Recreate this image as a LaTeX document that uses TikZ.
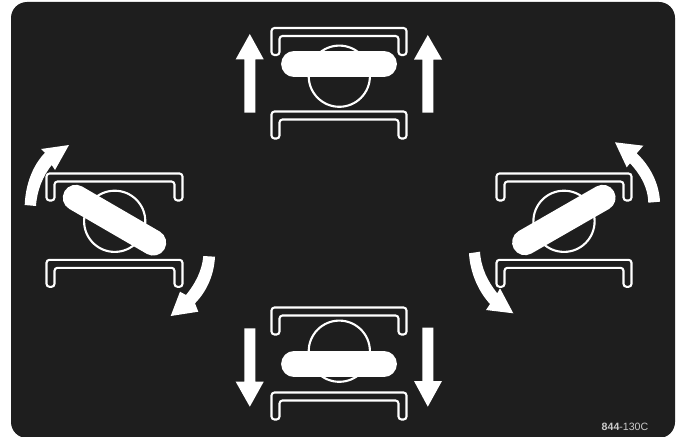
\documentclass[tikz,border=0pt]{standalone}
\usepackage{fontspec}
\setmainfont{Liberation Sans}
\definecolor{panelc}{HTML}{1E1E1E}
\newcommand{\brk}[3]{%
  \draw[brk] (#1,{#3+27}) -- (#1,#3) -- (#2,#3) -- (#2,{#3+27}) -- ({#2-8},{#3+27}) -- ({#2-8},{#3+8}) -- ({#1+8},{#3+8}) -- ({#1+8},{#3+27}) -- cycle;}
\tikzset{
  brk/.style={draw=white,line width=2.1pt,rounded corners=3pt},
  circ/.style={draw=white,line width=2.1pt},
  bar/.style={draw=white,line width=25.8pt,line cap=round},
  arw/.style={fill=white,draw=none},
  x=1pt,y=-1pt}
\begin{document}
\begin{tikzpicture}
\useasboundingbox (0,0) rectangle (679,436);
\fill[white] (0,0) rectangle (679,436);
\fill[panelc,rounded corners=16pt] (11,2) rectangle (675,438);
% top
\brk{271.5}{406.5}{28}
\brk{271.5}{406.5}{111.5}
\draw[circ] (339.3,76.2) circle (30.6);
\draw[bar] (294,64) -- (384,64);
\fill[arw] (244.3,112.5) -- (244.3,59.3) -- (235.7,59.3) -- (249.8,34) -- (263.7,59.3) -- (255.3,59.3) -- (255.3,112.5) -- cycle;
\fill[arw] (422.3,112.7) -- (422.3,59.5) -- (414,59.5) -- (427.8,35) -- (442,59.5) -- (433.3,59.5) -- (433.3,112.7) -- cycle;
% bottom
\brk{271.5}{406.5}{307.5}
\brk{271.5}{406.5}{392.5}
\draw[circ] (339.3,351.2) circle (30.6);
\draw[bar] (294,364) -- (384,364);
\fill[arw] (244.3,328.3) -- (244.3,381.7) -- (235.7,381.7) -- (249.8,406.7) -- (263.7,381.7) -- (255.3,381.7) -- (255.3,328.3) -- cycle;
\fill[arw] (422.3,327.7) -- (422.3,381) -- (414,381) -- (427.8,406.7) -- (442,381) -- (433.3,381) -- (433.3,327.7) -- cycle;
% left
\brk{46.5}{182.5}{173.5}
\brk{46.5}{182.5}{259.8}
\draw[circ] (114.7,221.3) circle (30.6);
\draw[bar] (75.7,197.7) -- (153.3,242.7);
\fill[arw] (24.7,205) .. controls (25.5,184) and (33,165) .. (45,152.7) -- (41,149) -- (69,145) -- (55,170) -- (51.7,165) .. controls (43,176) and (37,190) .. (36,206) -- cycle;
\fill[arw] (215,256.7) .. controls (214,275) and (207,291) .. (195,303.3) -- (198.3,311.7) -- (170.7,316) -- (180,291.7) -- (186,295) .. controls (195,284) and (202,271) .. (203.3,256) -- cycle;
% right
\brk{496.5}{631.5}{173.5}
\brk{496.5}{631.5}{259.8}
\draw[circ] (564,221.3) circle (30.6);
\draw[bar] (525,242.3) -- (602.7,197.7);
\fill[arw] (660,201.7) .. controls (659,183) and (650,166) .. (636.7,153.3) -- (643.3,145.7) -- (615,142.3) -- (626.7,167.3) -- (630,163.3) .. controls (641,175) and (648,188) .. (648.3,202.7) -- cycle;
\fill[arw] (469,253.3) .. controls (470,272) and (478,291) .. (490,304) -- (486,310) -- (513.3,313.3) -- (500,288.3) -- (497.3,293.3) .. controls (488,282) and (481,268) .. (480,251.7) -- cycle;
% code
\node[text=white!80!black,font=\fontsize{10.6pt}{11pt}\selectfont,anchor=center,inner sep=0pt] (code) at (625,427) {\textbf{844}-130C};
\end{tikzpicture}
\end{document}
